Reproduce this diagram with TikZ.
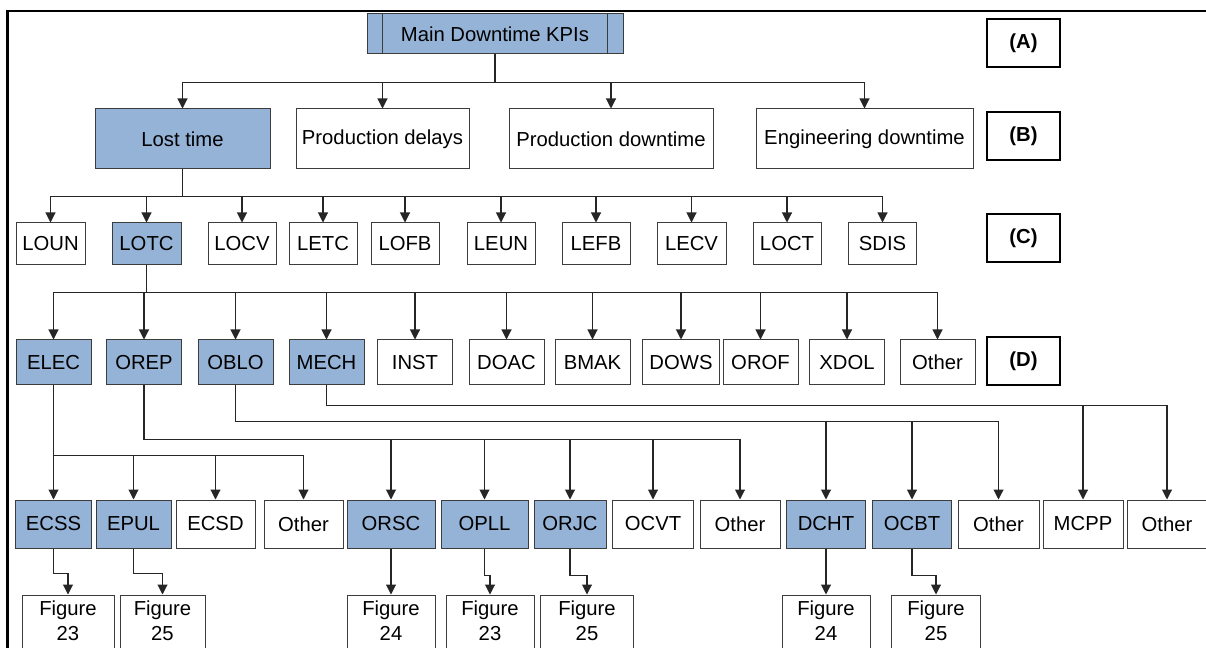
\documentclass[tikz,border=0pt]{standalone}
\usepackage{fontspec}
\setmainfont{Liberation Sans}
\usepackage{xcolor}
\usetikzlibrary{arrows.meta}
\definecolor{kpiblue}{RGB}{149,179,215}
\definecolor{edgegray}{RGB}{60,60,60}

\begin{document}
\begin{tikzpicture}[x=0.75pt,y=0.75pt,yscale=-1,xscale=1,
        font=\fontsize{15.2}{19}\selectfont,
        wd/.style={minimum width=#1*0.75pt},
        ht/.style={minimum height=#1*0.75pt},
        box/.style={draw=edgegray, line width=0.75pt, fill=white, inner sep=0pt, align=center},
        hl/.style={box, fill=kpiblue},
        fig/.style={box, ht=58, text depth=5pt},
        lvl/.style={draw=black, line width=1.6pt, inner sep=0pt, wd=73, ht=48, font=\fontsize{15.2}{19}\selectfont\bfseries},
        conn/.style={draw=black!85, line width=0.8pt},
        arr/.style={conn, -{Triangle[length=7.5pt,width=7.5pt]}}
    ]
        \useasboundingbox (0,0) rectangle (1206,648);
        %Shape: Frame
        \draw [line width=1.9pt] (7.5,11) rectangle (1230,690);

        % Level A
        \node [hl, wd=256, ht=40] (kpi) at (495,34) {Main Downtime KPIs};
        \draw [edgegray, line width=0.75pt] ([xshift=12pt]kpi.north west) -- ([xshift=12pt]kpi.south west);
        \draw [edgegray, line width=0.75pt] ([xshift=-12pt]kpi.north east) -- ([xshift=-12pt]kpi.south east);
        \node [lvl] (labA) at (1023.5,43) {(A)};

        % Level B
        \node [hl, wd=175, ht=60] (lost) at (182.5,139) {Lost time};
        \node [box, wd=173, ht=60] (delay) at (382.5,139) {Production delays};
        \node [box, wd=204, ht=60] (pdown) at (611,139) {Production downtime};
        \node [box, wd=217, ht=60] (edown) at (864.5,139) {Engineering downtime};
        \node [lvl] (labB) at (1023.5,136) {(B)};

        % Level C
        \node [box, wd=69, ht=42] (loun) at (50.5,244) {LOUN};
        \node [hl, wd=69, ht=42] (lotc) at (146.5,244) {LOTC};
        \node [box, wd=68, ht=42] (locv) at (242,244) {LOCV};
        \node [box, wd=68, ht=42] (letc) at (323,244) {LETC};
        \node [box, wd=68, ht=42] (lofb) at (405,244) {LOFB};
        \node [box, wd=68, ht=42] (leun) at (501,244) {LEUN};
        \node [box, wd=68, ht=42] (lefb) at (596,244) {LEFB};
        \node [box, wd=69, ht=42] (lecv) at (691.5,244) {LECV};
        \node [box, wd=68, ht=42] (loct) at (787,244) {LOCT};
        \node [box, wd=68, ht=42] (sdis) at (882.5,244) {SDIS};
        \node [lvl] (labC) at (1023.5,238) {(C)};

        % Level D
        \node [hl, wd=75, ht=45] (elec) at (53.5,362.5) {ELEC};
        \node [hl, wd=75, ht=45] (orep) at (144,362.5) {OREP};
        \node [hl, wd=75, ht=45] (oblo) at (235.5,362.5) {OBLO};
        \node [hl, wd=75, ht=45] (mech) at (326.5,362.5) {MECH};
        \node [box, wd=75, ht=45] (inst) at (415,362.5) {INST};
        \node [box, wd=75, ht=45] (doac) at (506.5,362.5) {DOAC};
        \node [box, wd=75, ht=45] (bmak) at (592.5,362.5) {BMAK};
        \node [box, wd=77, ht=45] (dows) at (681,362.5) {DOWS};
        \node [box, wd=75, ht=45] (orof) at (760.5,362.5) {OROF};
        \node [box, wd=75, ht=45] (xdol) at (847,362.5) {XDOL};
        \node [box, wd=75, ht=45] (doth) at (937.5,362.5) {Other};
        \node [lvl] (labD) at (1023.5,361) {(D)};

        % Level E
        \node [hl, wd=76, ht=48] (ecss) at (53.5,524) {ECSS};
        \node [hl, wd=75, ht=48] (epul) at (133.5,524) {EPUL};
        \node [box, wd=79, ht=48] (ecsd) at (215.5,524) {ECSD};
        \node [box, wd=79, ht=48] (eoth) at (303.5,524) {Other};
        \node [hl, wd=88, ht=48] (orsc) at (391,524) {ORSC};
        \node [hl, wd=87, ht=48] (opll) at (484.5,524) {OPLL};
        \node [hl, wd=72, ht=48] (orjc) at (570,524) {ORJC};
        \node [box, wd=81, ht=48] (ocvt) at (653,524) {OCVT};
        \node [box, wd=80, ht=48] (ooth) at (740,524) {Other};
        \node [hl, wd=79, ht=48] (dcht) at (826,524) {DCHT};
        \node [hl, wd=79, ht=48] (ocbt) at (912,524) {OCBT};
        \node [box, wd=81, ht=48] (both) at (998.5,524) {Other};
        \node [box, wd=80, ht=48] (mcpp) at (1083,524) {MCPP};
        \node [box, wd=80, ht=48] (moth) at (1167,524) {Other};

        % Figures
        \node [fig, wd=92] (f1) at (68,624) {Figure\\23};
        \node [fig, wd=85] (f2) at (162.5,624) {Figure\\25};
        \node [fig, wd=88] (f3) at (391,624) {Figure\\24};
        \node [fig, wd=88] (f4) at (490,624) {Figure\\23};
        \node [fig, wd=93] (f5) at (587,624) {Figure\\25};
        \node [fig, wd=88] (f6) at (826,624) {Figure\\24};
        \node [fig, wd=89] (f7) at (936,624) {Figure\\25};

        % Connectors
        \draw [conn] (kpi.south) -- ++(0,28) coordinate (jA);
        \foreach \n in {lost,delay,pdown,edown} \draw [arr] (jA) -| (\n.north);
        \draw [conn] (lost.south) -- ++(0,27) coordinate (jB);
        \foreach \n in {loun,lotc,locv,letc,lofb,leun,lefb,lecv,loct,sdis} \draw [arr] (jB) -| (\n.north);
        \draw [conn] (lotc.south) -- ++(0,27) coordinate (jC);
        \foreach \n in {elec,orep,oblo,mech,inst,doac,bmak,dows,orof,xdol,doth} \draw [arr] (jC) -| (\n.north);

        \draw [conn] (elec.south) -- ++(0,70) coordinate (jE);
        \foreach \n in {ecss,epul,ecsd,eoth} \draw [arr] (jE) -| (\n.north);
        \draw [conn] (orep.south) -- ++(0,54) coordinate (jO);
        \foreach \n in {orsc,opll,orjc,ocvt,ooth} \draw [arr] (jO) -| (\n.north);
        \draw [conn] (oblo.south) -- ++(0,36) coordinate (jL);
        \foreach \n in {dcht,ocbt,both} \draw [arr] (jL) -| (\n.north);
        \draw [conn] (mech.south) -- ++(0,20) coordinate (jM);
        \foreach \n in {mcpp,moth} \draw [arr] (jM) -| (\n.north);

        \draw [arr] (ecss.south) -- ++(0,25) -| (f1.north);
        \draw [arr] (epul.south) -- ++(0,25) -| (f2.north);
        \draw [arr] (orsc.south) -- (f3.north);
        \draw [arr] (opll.south) -- ++(0,27) -| (f4.north);
        \draw [arr] (orjc.south) -- ++(0,27) -| (f5.north);
        \draw [arr] (dcht.south) -- (f6.north);
        \draw [arr] (ocbt.south) -- ++(0,27) -| (f7.north);
\end{tikzpicture}
\end{document}
